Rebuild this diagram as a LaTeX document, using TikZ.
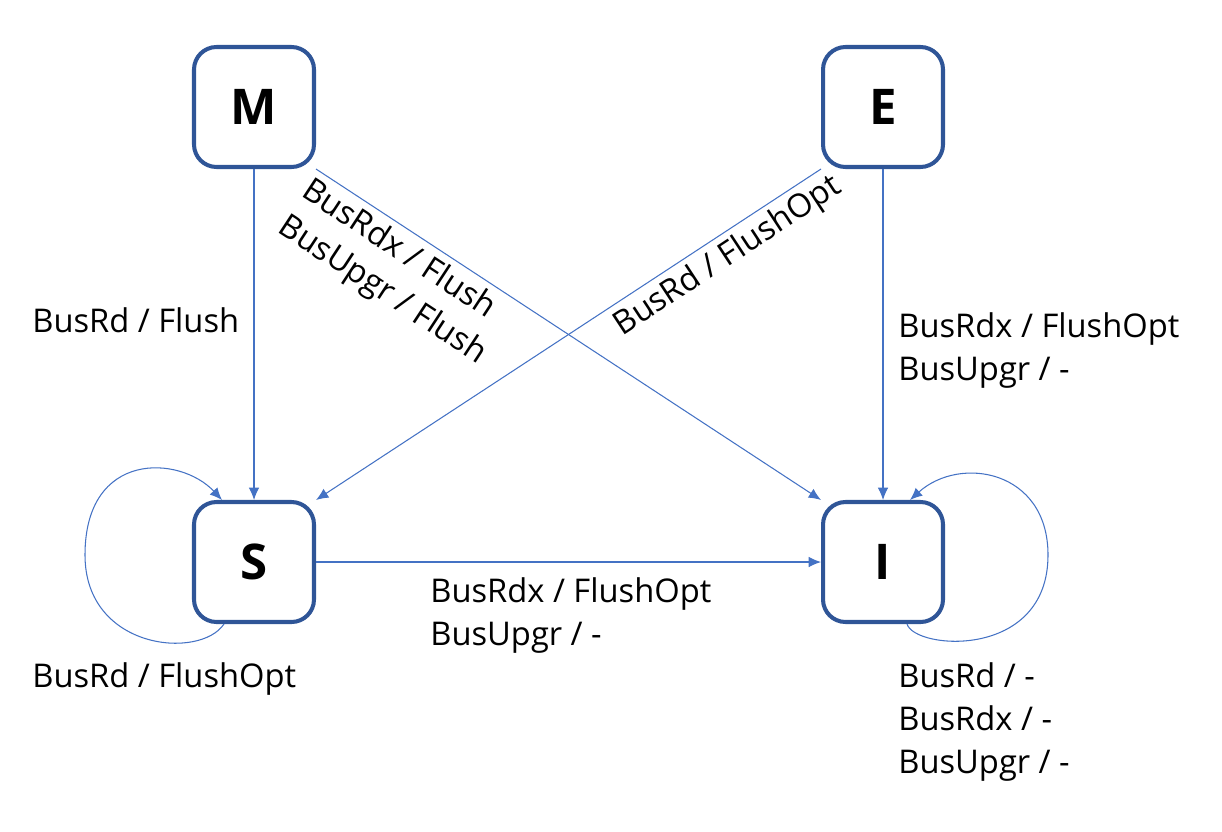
\documentclass[tikz,border=0pt]{standalone}
\usepackage{fontspec}
\setmainfont{Open Sans}
\usepackage{tikz}
\usetikzlibrary{calc,arrows.meta}
\definecolor{boxblue}{HTML}{2F5597}
\definecolor{lineblue}{HTML}{4472C4}
\tikzset{
  state/.style={draw=boxblue, line width=2.3pt, rounded corners=0.45cm,
    minimum size=2.4cm, inner sep=0pt, font=\fontsize{28}{30}\selectfont\bfseries},
  trans/.style={draw=lineblue, line width=0.6pt, -{Latex[length=7pt,width=6pt]}},
  lbl/.style={font=\fontsize{18.6}{24.5}\selectfont, align=left, inner sep=0pt}
}

\begin{document}
\begin{tikzpicture}[x=0.02cm,y=-0.02cm]
        \useasboundingbox (0,0) rectangle (1222,831);
        % states
        \node[state] (M) at (254,107) {M};
        \node[state] (E) at (883,107) {E};
        \node[state] (S) at (254,562) {S};
        \node[state] (I) at (883,562) {I};
        % transitions
        \draw[trans] (M.south) -- (S.north);
        \draw[trans] (M.south east) -- (I.north west);
        \draw[trans] (E.south west) -- (S.north east);
        \draw[trans] (E.south) -- (I.north);
        \draw[trans] (S.east) -- (I.west);
        % self loops
        \coordinate (sOut) at ($(S.south)+(-30,0)$);
        \coordinate (sIn) at ($(S.north)+(-32,0)$);
        \coordinate (iOut) at ($(I.south)+(24,0)$);
        \coordinate (iIn) at ($(I.north)+(27,0)$);
        \draw[trans] (sOut) .. controls (200,660) and (85,650) .. (85,555)
            .. controls (85,450) and (180,455) .. (sIn);
        \draw[trans] (iOut) .. controls (915,650) and (1048,660) .. (1048,555)
            .. controls (1048,470) and (960,455) .. (iIn);
        % labels
        \node[lbl, anchor=north west] (lMS) at (32,307) {BusRd / Flush};
        \node[lbl, anchor=north west] (lEI) at (898,312) {BusRdx / FlushOpt\\BusUpgr / -};
        \node[lbl, anchor=north west] (lSI) at (430,577) {BusRdx / FlushOpt\\BusUpgr / -};
        \node[lbl, anchor=north west] (lSS) at (32,662) {BusRd / FlushOpt};
        \node[lbl, anchor=north west] (lII) at (898,662) {BusRd / -\\BusRdx / -\\BusUpgr / -};
        \node[lbl, rotate=-33.3] (lMI) at (394,273) {BusRdx / Flush\\BusUpgr / Flush};
        \node[lbl, rotate=33.3] (lES) at (728,257) {BusRd / FlushOpt};
\end{tikzpicture}
\end{document}
